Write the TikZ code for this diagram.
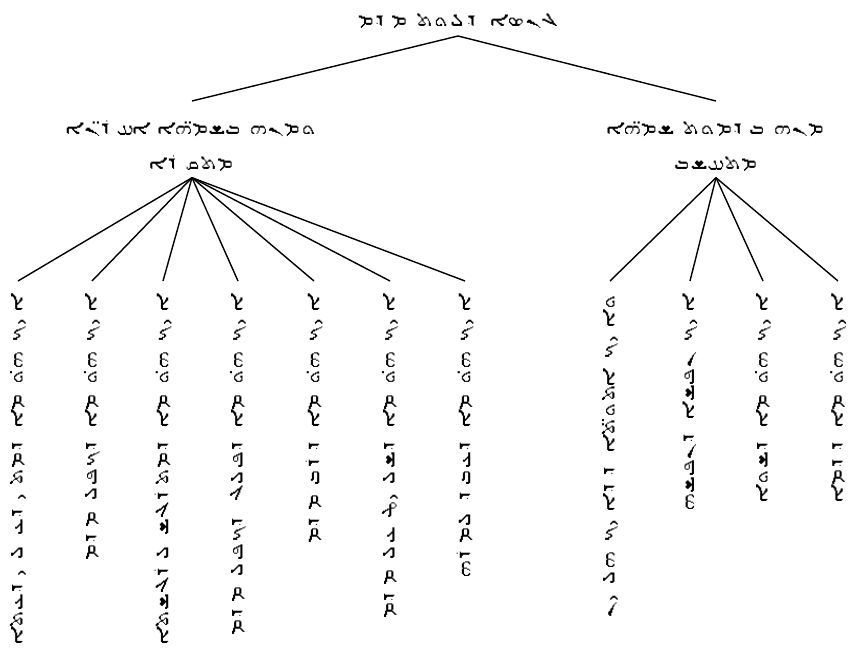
\documentclass[tikz,border=0pt]{standalone}
\usepackage{fontspec}
\TeXXeTstate=1
\IfFontExistsTF{Estrangelo Edessa}{\newfontfamily\syr[Script=Syriac]{Estrangelo Edessa}}{%
 \IfFontExistsTF{Serto Jerusalem}{\newfontfamily\syr[Script=Syriac]{Serto Jerusalem}}{%
  \IfFontExistsTF{East Syriac Adiabene}{\newfontfamily\syr[Script=Syriac]{East Syriac Adiabene}}{%
   \IfFontExistsTF{Unifont}{\newfontfamily\syr{Unifont}}{%
    \newfontfamily\syr{DejaVu Sans}}}}}
\newcommand{\lowstrut}{\rule{0pt}{16pt}}
\tikzset{
  syrtxt/.style={font=\syr\fontsize{9.5}{19.8}\selectfont, inner sep=2pt},
  topnode/.style={syrtxt, anchor=south, minimum height=0.56cm},
  midnode/.style={syrtxt, anchor=north, align=center, minimum height=1.52cm},
  leaf/.style={syrtxt, rotate=90, anchor=east, inner xsep=0.24cm},
  conn/.style={draw=black, line width=0.8pt}
}
\begin{document}
\begin{tikzpicture}[x=0.02cm,y=0.02cm]
\useasboundingbox (0,0) rectangle (855,660);
% root
\node[topnode] (root) at (458,624) {\beginR ܓܢܣܐ ܕܠܘܬ ܡܕܡ\endR};
% second level
\node[midnode] (lc) at (192,559) {\lowstrut\beginR ܘܡܢܗ ܒܫܡ̈ܗܐ ܐܚܪ̈ܢܐ\endR\\\beginR ܡܬܩܪܐ\endR};
\node[midnode] (rc) at (716,559) {\lowstrut\beginR ܡܢܗ ܒܕܡܘܬ ܫܡ̈ܗܐ\endR\\\beginR ܡܬܚܫܒ\endR};
% left leaves
\node[leaf] (l1) at (18,379)  {\beginR ܐܝܟ ܗ̇ܘ ܡܐ ܕܡܬܝܕܥ ܠܝܕܥܬܐ\endR};
\node[leaf] (l2) at (92,379)  {\beginR ܐܝܟ ܗ̇ܘ ܡܐ ܕܟܦܠ ܡܕܡ\endR};
\node[leaf] (l3) at (163,379) {\beginR ܐܝܟ ܗ̇ܘ ܡܐ ܕܡܬܪܓܫ ܠܪܓܫܬܐ\endR};
\node[leaf] (l4) at (238,379) {\beginR ܐܝܟ ܗ̇ܘ ܡܐ ܕܦܠܓ ܕܟܦܠ ܡܕܡ\endR};
\node[leaf] (l5) at (314,379) {\beginR ܐܝܟ ܗ̇ܘ ܡܐ ܕܪܒ ܡܕܡ\endR};
\node[leaf] (l6) at (390,379) {\beginR ܐܝܟ ܗ̇ܘ ܡܐ ܕܫܠܝܛ ܥܠ ܡܕܡ\endR};
\node[leaf] (l7) at (465,379) {\beginR ܐܝܟ ܗ̇ܘ ܡܐ ܕܥܒܕ ܠܡܪܗ\endR};
% right leaves
\node[leaf] (r1) at (610,379) {\beginR ܘܐܝܟ ܐܬܘ̈ܬܐ ܕܕܐܝܟ ܗܠܝܢ\endR};
\node[leaf] (r2) at (690,379) {\beginR ܐܝܟ ܢܦܫܐ ܕܢܦܫܗ\endR};
\node[leaf] (r3) at (763,379) {\beginR ܐܝܟ ܗ̇ܘ ܡܐ ܕܫܘܐ\endR};
\node[leaf] (r4) at (838,379) {\beginR ܐܝܟ ܗ̇ܘ ܡܐ ܕܕܡܐ\endR};
% connectors
\draw[conn] (root.south) -- (lc.north);
\draw[conn] (root.south) -- (rc.north);
\foreach \t in {l1,l2,l3,l4,l5,l6,l7}{\draw[conn] (lc.south) -- (\t.east);}
\foreach \t in {r1,r2,r3,r4}{\draw[conn] (rc.south) -- (\t.east);}
\end{tikzpicture}
\end{document}
